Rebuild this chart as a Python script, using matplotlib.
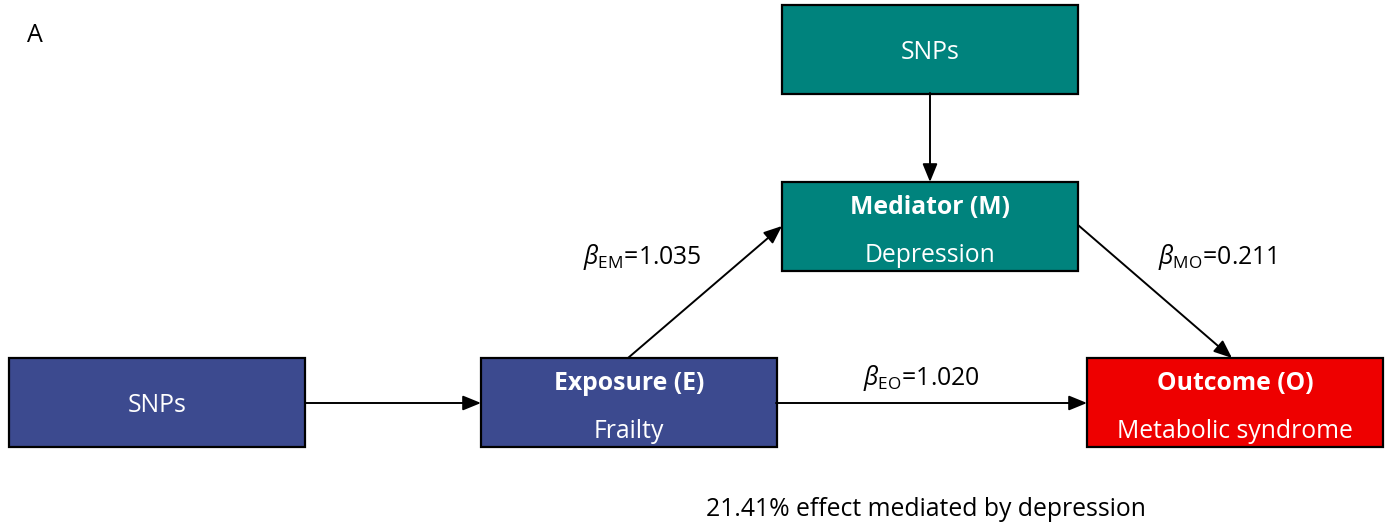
import matplotlib.pyplot as plt
from matplotlib.patches import Rectangle

plt.rcParams['font.family'] = ['Open Sans', 'DejaVu Sans']
plt.rcParams['mathtext.fontset'] = 'custom'
plt.rcParams['mathtext.rm'] = 'Open Sans'
plt.rcParams['mathtext.it'] = 'Open Sans:italic'

# node text
titles = ['', 'Exposure (E)', '', 'Mediator (M)', 'Outcome (O)']
subtitles = ['SNPs', 'Frailty', 'SNPs', 'Depression', 'Metabolic syndrome']
colors = ['#3c4a8f', '#3c4a8f', '#00837d', '#00837d', '#ee0000']

# edge labels
betas = ['EM', 'MO', 'EO']
beta_vals = ['1.035', '0.211', '1.020']
note = '21.41% effect mediated by depression'

# layout (pixel coords, y down)
boxes = [(9, 358), (481, 358), (782, 5), (782, 182), (1087, 358)]
bw, bh = 296, 89
arrows = [((305, 403), (481, 403)),
          ((776, 403), (1087, 403)),
          ((930, 93), (930, 182)),
          ((628, 358), (782, 226)),
          ((1078, 225), (1232, 358))]
beta_pos = [(583, 257), (1158, 257), (863, 378)]

fig = plt.figure(figsize=(13.9, 5.25), dpi=100)
ax = fig.add_axes([0, 0, 1, 1])
ax.set_xlim(0, 1390)
ax.set_ylim(525, 0)
ax.axis('off')

fs = 17.8
for (x, y), t, s, c in zip(boxes, titles, subtitles, colors):
    ax.add_patch(Rectangle((x, y), bw, bh, facecolor=c, edgecolor='black', lw=1.6))
    if t:
        ax.text(x + bw / 2, y + 26, t, color='white', fontsize=fs, fontweight='bold',
                ha='center', va='center')
        ax.text(x + bw / 2, y + 73, s, color='white', fontsize=fs, ha='center', va='center')
    else:
        ax.text(x + bw / 2, y + bh / 2 + 3, s, color='white', fontsize=fs,
                ha='center', va='center')

for (p0, p1) in arrows:
    ax.annotate('', xy=p1, xytext=p0,
                arrowprops=dict(arrowstyle='-|>,head_length=1.1,head_width=0.45',
                                color='black', lw=1.4, shrinkA=0, shrinkB=0))

for (x, y), b, v in zip(beta_pos, betas, beta_vals):
    ax.text(x, y, r'$\mathit{\beta}_{\mathrm{' + b + '}}$=' + v, fontsize=fs,
            ha='left', va='center')

ax.text(27, 36, 'A', fontsize=18, ha='left', va='center')
ax.text(926, 509, note, fontsize=fs, ha='center', va='center')

fig.savefig('out.png', dpi=100)
